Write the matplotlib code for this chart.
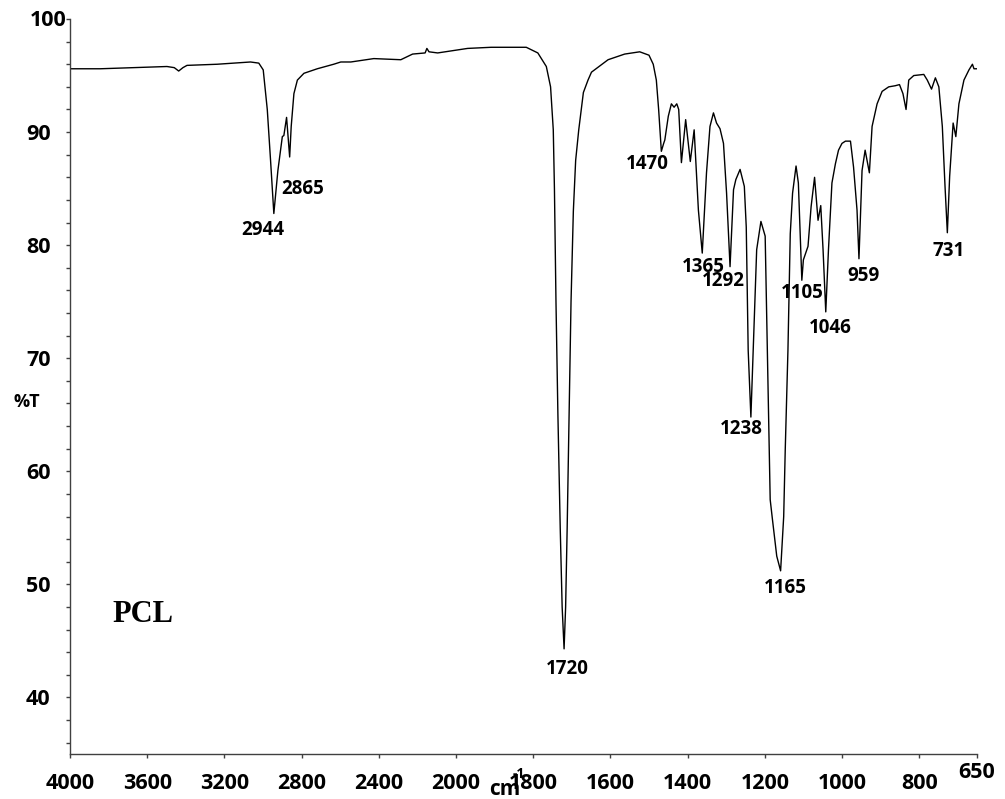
import numpy as np
import matplotlib
matplotlib.use("Agg")
import matplotlib.pyplot as plt
from matplotlib.ticker import MultipleLocator, FixedLocator

# FTIR spectrum of PCL
wavenumber = [4000, 3844, 3672, 3498, 3460, 3437, 3415, 3394, 3238, 3065, 3022,
              2999, 2978, 2961, 2944, 2923, 2900, 2892, 2878, 2869, 2862, 2854,
              2840, 2822, 2788, 2719, 2634, 2597, 2545, 2426, 2286, 2225, 2160,
              2151, 2140, 2095, 1970, 1909, 1818, 1788, 1766, 1755, 1748, 1745,
              1741, 1736, 1730, 1725, 1720, 1716, 1712, 1707, 1702, 1696, 1690,
              1682, 1670,
              1658, 1649, 1606, 1563, 1524, 1500, 1489, 1481, 1475, 1468, 1462,
              1459, 1450, 1442, 1435, 1428, 1423, 1416, 1405, 1393, 1383, 1372,
              1362, 1351, 1342, 1333, 1325, 1316, 1307, 1299, 1290, 1281, 1275,
              1264, 1253, 1248, 1243, 1236, 1227, 1221, 1210, 1199, 1195, 1190,
              1186, 1180, 1169, 1159, 1151, 1147, 1140, 1134, 1128, 1119, 1113,
              1104, 1100, 1088, 1080, 1071, 1062, 1055, 1049, 1042, 1035, 1026,
              1017, 1009, 1000, 991, 978, 970, 961, 956, 948, 940, 935, 929, 922,
              909, 896, 879, 862, 851, 842, 834, 827, 814, 788, 779, 768, 758,
              749, 740, 733, 727, 721, 712, 705, 697, 684, 671, 662, 658, 652]
transmittance = [95.6, 95.6, 95.7, 95.8, 95.7, 95.4, 95.7, 95.9, 96.0, 96.2, 96.1,
                 95.5, 92.0, 87.5, 82.8, 86.6, 89.6, 89.7, 91.3, 89.3, 87.8, 90.5,
                 93.4, 94.6, 95.2, 95.6, 96.0, 96.2, 96.2, 96.5, 96.4, 96.9, 97.0,
                 97.4, 97.1, 97.0, 97.4, 97.5, 97.5, 97.0, 95.8, 94.0, 90.2, 85.0,
                 75.0, 65.0, 55.0, 48.0, 44.3, 48.0, 55.0, 65.0, 75.0, 83.0, 87.5,
                 90.2, 93.5,
                 94.6, 95.3, 96.4, 96.9, 97.1, 96.8, 96.0, 94.6, 92.0, 88.3, 89.0,
                 89.3, 91.4, 92.5, 92.2, 92.5, 92.0, 87.3, 91.1, 87.4, 90.2, 83.1,
                 79.3, 86.4, 90.5, 91.7, 90.8, 90.3, 89.0, 84.6, 78.1, 84.9, 85.8,
                 86.7, 85.2, 81.6, 70.7, 64.8, 73.7, 79.6, 82.1, 80.8, 73.7, 64.8,
                 57.5, 55.7, 52.5, 51.2, 56.0, 61.9, 70.7, 81.0, 84.6, 87.0, 85.5,
                 76.9, 78.7, 79.9, 83.4, 86.0, 82.2, 83.5, 79.6, 74.1, 79.6, 85.5,
                 87.2, 88.4, 89.0, 89.2, 89.2, 86.9, 83.1, 78.8, 86.6, 88.4, 87.5,
                 86.4, 90.5, 92.5, 93.6, 94.0, 94.1, 94.2, 93.4, 92.0, 94.6, 95.0,
                 95.1, 94.6, 93.8, 94.8, 94.0, 90.5, 85.2, 81.1, 86.1, 90.8, 89.6,
                 92.5, 94.6, 95.5, 96.0, 95.6, 95.6]

# peak annotations: label, x position, y position
peak_labels = ["2944", "2865", "1720", "1470", "1365", "1292", "1238",
               "1165", "1105", "1046", "959", "731"]
peak_x = [3003, 2792, 1713, 1504, 1359, 1307, 1260, 1147, 1102, 1030, 943, 723]
peak_y = [81.3, 85.0, 42.5, 87.2, 78.1, 76.8, 63.7, 49.7, 75.8, 72.7, 77.3, 79.5]

x_ticks = [4000, 3600, 3200, 2800, 2400, 2000, 1800, 1600, 1400, 1200, 1000, 800, 650]
y_ticks = [40, 50, 60, 70, 80, 90, 100]


# the spectrometer axis changes scale at 2000 cm-1
def fwd(w):
    w = np.asarray(w, dtype=float)
    return np.where(w > 2000, 2000 + (w - 2000) / 2, w)


def inv(v):
    v = np.asarray(v, dtype=float)
    return np.where(v > 2000, 2000 + 2 * (v - 2000), v)


num_font = "Open Sans"
axis_col = "#404040"

fig = plt.figure(figsize=(10.05, 7.99), dpi=100)
ax = fig.add_axes([0.0697, 0.0563, 0.9025, 0.9199])

ax.plot(wavenumber, transmittance, color="black", linewidth=1.0)

ax.set_xscale("function", functions=(fwd, inv))
ax.set_xlim(4000, 650)
ax.set_ylim(35, 100)

for s in ["top", "right"]:
    ax.spines[s].set_visible(False)
for s in ["left", "bottom"]:
    ax.spines[s].set_color(axis_col)
    ax.spines[s].set_linewidth(1.0)

ax.xaxis.set_major_locator(FixedLocator(x_ticks))
ax.xaxis.set_minor_locator(FixedLocator([]))
ax.set_xticklabels([str(t) if t != 650 else "" for t in x_ticks])
ax.set_yticks(y_ticks)
ax.set_yticklabels([str(t) if t != 100 else "" for t in y_ticks])
ax.yaxis.set_minor_locator(MultipleLocator(2))

ax.tick_params(axis="x", direction="out", length=3, width=1, color=axis_col, pad=10.5)
ax.tick_params(axis="y", which="both", direction="out", length=3, width=1,
               color=axis_col, pad=11)
for lab in ax.get_xticklabels() + ax.get_yticklabels():
    lab.set_fontfamily(num_font)
    lab.set_fontweight("bold")
    lab.set_fontsize(15.5)

# odd placed labels
fig.text(977 / 1005, 1 - 772 / 799, "650", ha="center", va="center",
         family=num_font, weight="bold", size=15.5)
fig.text(67 / 1005, 1 - 21 / 799, "100", ha="right", va="center",
         family=num_font, weight="bold", size=15.5)
fig.text(27 / 1005, 1 - 402 / 799, "%T", ha="center", va="center",
         family=num_font, weight="bold", size=13)
fig.text(489 / 1005, 1 - 795 / 799, "cm", ha="left", va="baseline",
         family=num_font, weight="bold", size=15)
fig.text(513 / 1005, 1 - 778 / 799, "-1", ha="left", va="baseline",
         family=num_font, weight="bold", size=10)

for lab, px, py in zip(peak_labels, peak_x, peak_y):
    ax.text(px, py, lab, ha="center", va="center", family=num_font,
            weight="bold", size=13.5)

ax.text(3782, 47.3, "PCL", ha="left", va="center", family="Liberation Serif",
        weight="bold", size=22)

fig.savefig("out.png", dpi=100)
